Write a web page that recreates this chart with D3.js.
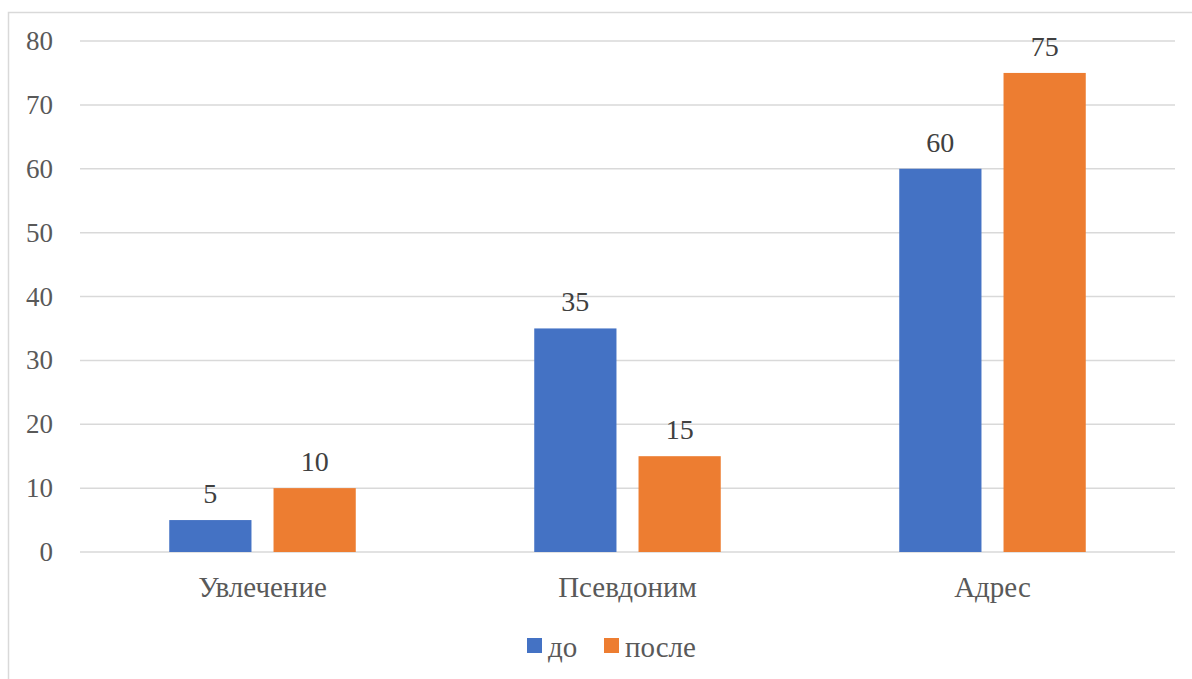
<!DOCTYPE html>
<html>
<head>
<meta charset="utf-8">
<script src="https://cdn.jsdelivr.net/npm/d3@7"></script>
</head>
<body style="margin:0">
<svg id="chart" width="1192" height="679"></svg>
<script>
// chart data
const categories = ['Увлечение', 'Псевдоним', 'Адрес'];
const seriesNames = ['до', 'после'];
const before = [5, 35, 60];
const after = [10, 15, 75];
const yTicks = [0, 10, 20, 30, 40, 50, 60, 70, 80];
const colors = ['#4472c4', '#ed7d31'];

const svg = d3.select('#chart');
const W = 1192, H = 679;
const plot = { left: 80, right: 1175, top: 41, bottom: 552 };

// outer frame
svg.append('rect')
  .attr('x', 8.5).attr('y', 12.5)
  .attr('width', W).attr('height', H)
  .attr('fill', 'none').attr('stroke', '#d9d9d9').attr('stroke-width', 1.5);

const y = d3.scaleLinear().domain([0, 80]).range([plot.bottom, plot.top]);
const x0 = d3.scaleBand().domain(categories)
  .range([plot.left, plot.right])
  .paddingInner(0.489).paddingOuter(0.2445);
const x1 = d3.scaleBand().domain(seriesNames)
  .range([0, x0.bandwidth()])
  .paddingInner(0.2115);

// gridlines
svg.append('g').selectAll('line')
  .data(yTicks)
  .join('line')
  .attr('x1', plot.left).attr('x2', plot.right)
  .attr('y1', d => y(d)).attr('y2', d => y(d))
  .attr('stroke', '#d9d9d9').attr('stroke-width', 1.5);

// small helper so every label gets the same serif face
const serif = sel => sel.style('font-family', '"Tinos", "Liberation Serif", serif');

// y tick labels
svg.append('g').selectAll('text')
  .data(yTicks)
  .join('text')
  .attr('x', 53).attr('y', d => y(d) + 9)
  .attr('text-anchor', 'end')
  .attr('font-size', 27).attr('fill', '#595959')
  .call(serif)
  .text(d => d);

const rows = categories.map((c, i) => ({ cat: c, values: [before[i], after[i]] }));

const groups = svg.append('g').selectAll('g')
  .data(rows)
  .join('g')
  .attr('transform', d => `translate(${x0(d.cat)},0)`);

groups.selectAll('rect')
  .data(d => d.values.map((v, j) => ({ key: seriesNames[j], v, j })))
  .join('rect')
  .attr('x', d => x1(d.key))
  .attr('y', d => y(d.v))
  .attr('width', x1.bandwidth())
  .attr('height', d => y(0) - y(d.v))
  .attr('fill', d => colors[d.j]);

// value labels
groups.selectAll('text.val')
  .data(d => d.values.map((v, j) => ({ key: seriesNames[j], v, j })))
  .join('text')
  .attr('class', 'val')
  .attr('x', d => x1(d.key) + x1.bandwidth() / 2)
  .attr('y', d => y(d.v) - 17)
  .attr('text-anchor', 'middle')
  .attr('font-size', 28).attr('fill', '#404040')
  .call(serif)
  .text(d => d.v);

// category labels
svg.append('g').selectAll('text')
  .data(categories)
  .join('text')
  .attr('x', d => x0(d) + x0.bandwidth() / 2)
  .attr('y', 597)
  .attr('text-anchor', 'middle')
  .attr('font-size', 29).attr('fill', '#595959')
  .call(serif)
  .text(d => d);

// legend
const legendX = [527, 604];
const legend = svg.append('g').selectAll('g')
  .data(seriesNames)
  .join('g')
  .attr('transform', (d, i) => `translate(${legendX[i]},638)`);
legend.append('rect')
  .attr('width', 15).attr('height', 15)
  .attr('fill', (d, i) => colors[i]);
legend.append('text')
  .attr('x', 21).attr('y', 19)
  .attr('font-size', 29).attr('fill', '#595959')
  .call(serif)
  .text(d => d);
</script>
</body>
</html>
